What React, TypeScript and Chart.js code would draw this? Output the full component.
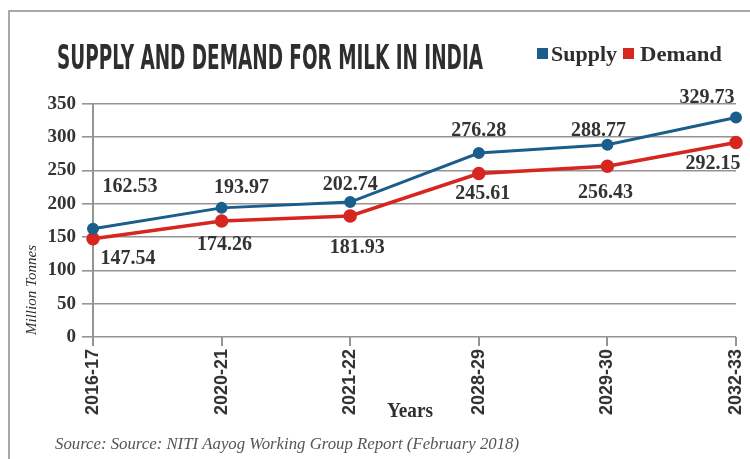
import React, { useEffect, useRef } from "react";
import { Chart, registerables } from "chart.js";

Chart.register(...registerables);

const categories = ["2016-17", "2020-21", "2021-22", "2028-29", "2029-30", "2032-33"];
const supply = [162.53, 193.97, 202.74, 276.28, 288.77, 329.73];
const demand = [147.54, 174.26, 181.93, 245.61, 256.43, 292.15];
const yTickValues = [0, 50, 100, 150, 200, 250, 300, 350];

const chartTitle = "SUPPLY AND DEMAND FOR MILK IN INDIA";
const seriesNames = ["Supply", "Demand"];
const xAxisTitle = "Years";
const yAxisTitle = "Million Tonnes";
const sourceText = "Source: Source: NITI Aayog Working Group Report (February 2018)";

const SUPPLY_COLOR = "#1b5e8c";
const DEMAND_COLOR = "#d6261f";
const TEXT_COLOR = "#2e2e2e";

// label placement offsets (pixels, styling only)
const supplyLabelOffsets = [[37, -42], [20, -20], [0, -17], [0, -22], [-9, -14], [-29, -20]];
const demandLabelOffsets = [[35, 20], [3, 24], [7, 32], [4, 20], [-2, 27], [-23, 21]];

function fitText(ctx: CanvasRenderingContext2D, text: string, x: number, y: number, width: number) {
  const w = ctx.measureText(text).width;
  const s = width / w;
  ctx.save();
  ctx.translate(x, y);
  ctx.scale(s, 1);
  ctx.textAlign = "left";
  ctx.fillText(text, 0, 0);
  ctx.restore();
}

const decorPlugin = {
  id: "decor",
  afterDraw(chart: any) {
    const ctx: CanvasRenderingContext2D = chart.ctx;
    ctx.save();
    // frame
    ctx.strokeStyle = "#a8a8a8";
    ctx.lineWidth = 2;
    ctx.beginPath();
    ctx.moveTo(9, 470);
    ctx.lineTo(9, 11);
    ctx.lineTo(760, 11);
    ctx.stroke();

    // title
    ctx.fillStyle = TEXT_COLOR;
    ctx.textBaseline = "alphabetic";
    ctx.font = "bold 33px 'Liberation Sans Narrow', 'DejaVu Sans Condensed', sans-serif";
    fitText(ctx, chartTitle, 57, 69, 426);

    // legend
    ctx.fillStyle = SUPPLY_COLOR;
    ctx.fillRect(537, 48, 11, 11);
    ctx.fillStyle = DEMAND_COLOR;
    ctx.fillRect(623, 48, 11, 11);
    ctx.fillStyle = TEXT_COLOR;
    ctx.font = "bold 20px 'Liberation Serif', serif";
    fitText(ctx, seriesNames[0], 551, 61, 66);
    fitText(ctx, seriesNames[1], 640, 61, 82);

    // x axis title
    ctx.font = "bold 22px 'Liberation Serif', serif";
    fitText(ctx, xAxisTitle, 387, 417, 46);

    // y axis title
    ctx.save();
    ctx.translate(36, 335);
    ctx.rotate(-Math.PI / 2);
    ctx.font = "italic 15px 'Liberation Serif', serif";
    fitText(ctx, yAxisTitle, 0, 0, 90);
    ctx.restore();

    // source
    ctx.fillStyle = "#555555";
    ctx.font = "italic 16px 'Liberation Serif', serif";
    fitText(ctx, sourceText, 55, 449, 464);

    // data labels
    ctx.fillStyle = "#333333";
    ctx.font = "bold 20px 'Liberation Serif', serif";
    ctx.textAlign = "center";
    ctx.textBaseline = "middle";
    const sets = [
      { values: supply, offsets: supplyLabelOffsets, meta: chart.getDatasetMeta(0) },
      { values: demand, offsets: demandLabelOffsets, meta: chart.getDatasetMeta(1) },
    ];
    sets.forEach((s) => {
      s.meta.data.forEach((pt: any, i: number) => {
        const [dx, dy] = s.offsets[i];
        ctx.fillText(s.values[i].toFixed(2), pt.x + dx, pt.y + dy);
      });
    });
    ctx.restore();
  },
};

export default function App() {
  const ref = useRef<HTMLCanvasElement>(null);
  useEffect(() => {
    document.body.style.margin = "0";
    document.body.style.background = "#ffffff";
    const canvas = ref.current!;
    const chart = new Chart(canvas, {
      type: "line",
      data: {
        labels: categories,
        datasets: [
          {
            label: seriesNames[0],
            data: supply,
            borderColor: SUPPLY_COLOR,
            backgroundColor: SUPPLY_COLOR,
            pointBackgroundColor: SUPPLY_COLOR,
            pointBorderColor: SUPPLY_COLOR,
            borderWidth: 3,
            pointRadius: 4.5,
            tension: 0,
          },
          {
            label: seriesNames[1],
            data: demand,
            borderColor: DEMAND_COLOR,
            backgroundColor: DEMAND_COLOR,
            pointBackgroundColor: DEMAND_COLOR,
            pointBorderColor: DEMAND_COLOR,
            borderWidth: 3.5,
            pointRadius: 5,
            tension: 0,
          },
        ],
      },
      options: {
        animation: false,
        responsive: false,
        devicePixelRatio: 1,
        layout: { padding: { left: 0, right: 14, top: 104, bottom: 0 } },
        plugins: {
          legend: { display: false },
          title: { display: false },
          tooltip: { enabled: false },
        },
        scales: {
          x: {
            type: "category",
            offset: false,
            grid: {
              display: true,
              drawOnChartArea: false,
              drawTicks: true,
              tickLength: 9,
              color: "#949494",
              lineWidth: 2,
            },
            border: { display: false },
            ticks: {
              autoSkip: false,
              maxRotation: 90,
              minRotation: 90,
              padding: 3,
              color: "#333333",
              font: { family: "'Liberation Sans', sans-serif", weight: "bold", size: 18 },
            },
            afterFit: (axis: any) => {
              axis.height = 122;
              axis.paddingLeft = 0;
              axis.paddingRight = 0;
            },
          },
          y: {
            min: 0,
            max: 350,
            afterBuildTicks: (axis: any) => {
              axis.ticks = yTickValues.map((v) => ({ value: v }));
            },
            grid: {
              color: "#949494",
              lineWidth: 1.6,
              drawTicks: true,
              tickLength: 11,
            },
            border: { display: true, color: "#949494", width: 2 },
            ticks: {
              padding: 6,
              color: "#333333",
              font: { family: "'Liberation Serif', serif", weight: "bold", size: 19 },
            },
            afterFit: (axis: any) => {
              axis.width = 93;
              axis.paddingTop = 0;
              axis.paddingBottom = 0;
            },
          },
        },
      },
      plugins: [decorPlugin],
    });
    return () => chart.destroy();
  }, []);
  return (
    <div style={{ width: 750, height: 459, background: "#ffffff" }}>
      <canvas ref={ref} width={750} height={459} style={{ display: "block" }} />
    </div>
  );
}
